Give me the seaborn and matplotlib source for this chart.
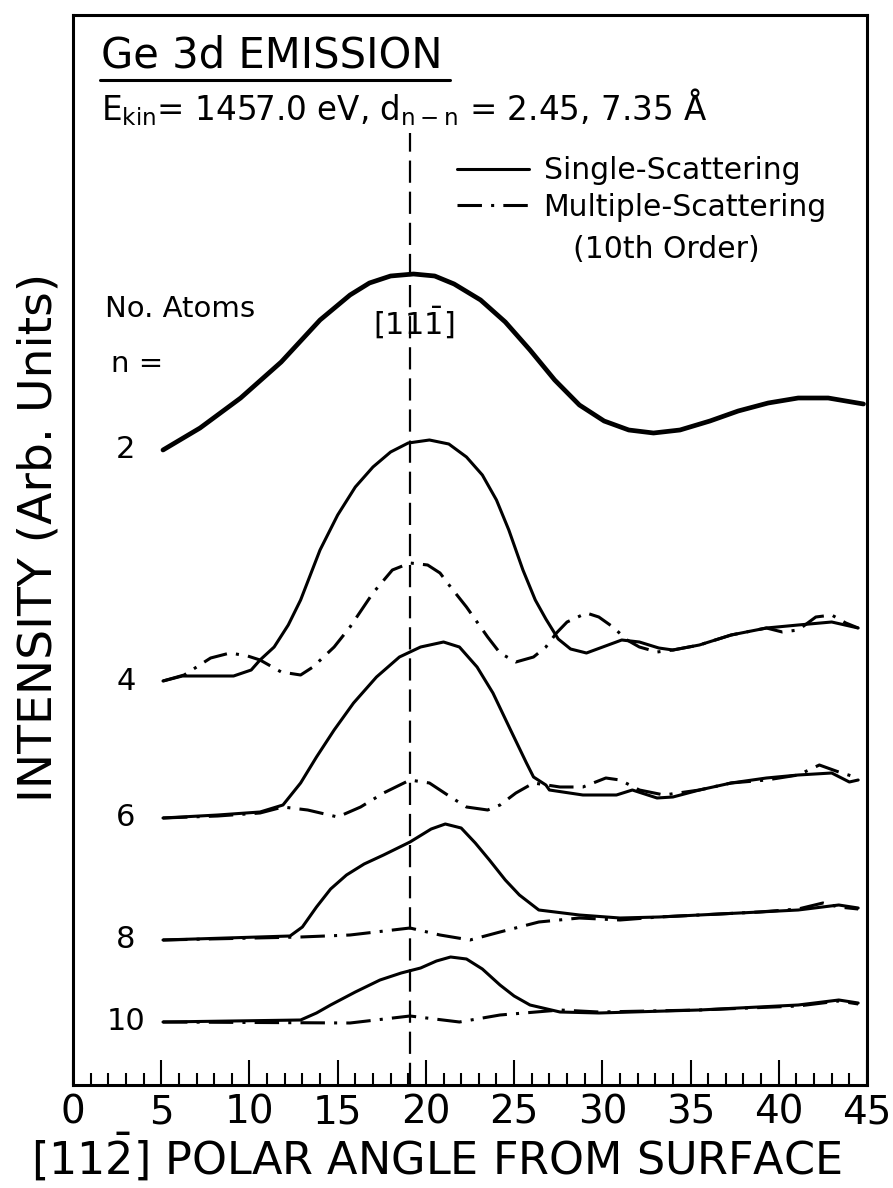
import matplotlib
matplotlib.use('Agg')
import matplotlib.pyplot as plt
import seaborn as sns
from matplotlib.lines import Line2D

# polar angle (deg) and offset intensity (arb. units)
n2_ang = [5.1, 7.2, 9.5, 11.8, 14.0, 15.7, 16.8, 18.0, 19.3, 20.5, 21.6, 23.1, 24.5, 25.9,
          27.3, 28.7, 30.1, 31.5, 32.9, 34.4, 36.1, 37.7, 39.4, 41.1, 42.8, 44.8]
n2_int = [63.5, 65.7, 68.7, 72.3, 76.5, 79.0, 80.2, 80.9, 81.1, 80.9, 80.1, 78.5, 76.3, 73.5,
          70.5, 68.0, 66.4, 65.5, 65.2, 65.5, 66.4, 67.4, 68.2, 68.7, 68.7, 68.1]

n4_ss_ang = [5.1, 6.2, 9.1, 10.1, 10.6, 11.4, 12.2, 12.9, 14.0, 15.0, 16.0, 17.0, 18.0, 19.0,
             20.2, 21.3, 22.3, 23.2, 24.0, 24.7, 25.5, 26.2, 26.8, 27.5, 28.2, 29.1, 31.1,
             32.1, 33.2, 34.0, 35.5, 37.3, 39.3, 41.1, 43.0, 44.5]
n4_ss_int = [40.4, 40.9, 40.9, 41.5, 42.5, 43.8, 46.0, 48.5, 53.5, 57.0, 59.8, 61.8, 63.3, 64.2,
             64.5, 64.1, 62.8, 61.0, 58.5, 55.5, 51.5, 48.5, 46.6, 44.6, 43.6, 43.2, 44.5,
             44.3, 43.7, 43.5, 44.0, 45.0, 45.7, 46.0, 46.3, 45.7]
n4_ms_ang = [5.1, 6.3, 7.8, 8.9, 9.9, 10.6, 11.8, 12.9, 13.6, 14.8, 15.7, 17.0, 18.1, 19.1,
             20.1, 20.8, 21.4, 22.3, 23.5, 24.2, 25.1, 26.1, 26.8, 27.4, 28.0, 29.1, 29.8,
             30.6, 31.4, 32.1, 33.1, 34.0, 35.5, 37.3, 39.3, 40.2, 41.1, 42.1, 43.0, 43.8, 44.5]
n4_ms_int = [40.4, 41.0, 42.7, 43.2, 42.9, 42.5, 41.3, 41.0, 41.8, 43.8, 45.8, 49.2, 51.5, 52.2,
             52.0, 51.2, 49.8, 47.8, 44.8, 43.2, 42.3, 42.8, 43.8, 45.2, 46.3, 47.2, 46.8,
             45.8, 44.5, 43.8, 43.3, 43.5, 44.0, 45.0, 45.7, 45.3, 45.5, 46.8, 47.0, 46.2, 45.7]

n6_ss_ang = [5.1, 8.2, 10.6, 11.9, 12.9, 13.8, 14.8, 15.9, 17.2, 18.5, 19.7, 21.0, 21.9,
             22.9, 23.8, 24.8, 25.7, 26.1, 26.8, 27.0, 28.9, 30.8, 31.7, 33.1, 34.0, 35.5,
             37.3, 39.3, 41.1, 43.0, 44.0, 44.5]
n6_ss_int = [26.7, 27.0, 27.3, 28.0, 30.2, 32.8, 35.5, 38.2, 40.8, 42.8, 43.8, 44.3, 43.8,
             41.8, 39.2, 35.5, 32.2, 30.8, 30.0, 29.5, 29.0, 29.0, 29.5, 28.7, 28.8, 29.5,
             30.2, 30.7, 31.0, 31.2, 30.3, 30.5]
n6_ms_ang = [5.1, 8.2, 10.6, 11.9, 13.3, 15.0, 16.3, 17.6, 19.1, 20.2, 21.4, 22.3, 23.5,
             24.2, 25.1, 26.1, 27.6, 28.9, 30.2, 31.0, 32.1, 33.5, 35.5, 37.3, 39.3, 41.1,
             42.3, 43.4, 44.5]
n6_ms_int = [26.7, 26.9, 27.2, 27.8, 27.5, 26.8, 27.8, 29.2, 30.5, 30.2, 28.8, 27.8, 27.5,
             28.0, 29.2, 30.2, 29.8, 29.8, 30.7, 30.5, 29.5, 29.0, 29.5, 30.2, 30.5, 31.0,
             32.0, 31.3, 30.7]

n8_ss_ang = [5.1, 12.3, 13.0, 13.8, 14.6, 15.5, 16.5, 17.6, 19.1, 20.3, 21.1, 22.0, 22.8,
             23.6, 24.5, 25.3, 26.4, 28.7, 31.0, 33.2, 35.5, 38.9, 41.1, 43.4, 44.5]
n8_ss_int = [14.5, 14.9, 15.8, 17.8, 19.6, 21.0, 22.1, 23.0, 24.3, 25.6, 26.1, 25.7, 24.2,
             22.5, 20.5, 19.0, 17.5, 17.0, 16.7, 16.8, 17.0, 17.3, 17.5, 18.0, 17.7]
n8_ms_ang = [5.1, 12.9, 15.7, 19.1, 20.8, 22.5, 24.2, 26.4, 28.7, 31.0, 33.2, 35.5, 38.9,
             41.1, 42.5, 43.4, 44.5]
n8_ms_int = [14.5, 14.8, 15.0, 15.7, 15.0, 14.5, 15.3, 16.3, 16.7, 16.5, 16.8, 17.0, 17.3,
             17.6, 18.2, 17.8, 17.6]

n10_ss_ang = [5.1, 12.9, 13.8, 14.6, 16.0, 17.4, 18.6, 19.7, 20.6, 21.4, 22.3, 23.2, 24.2,
              25.0, 25.9, 27.6, 29.8, 35.5, 41.1, 43.4, 44.5]
n10_ss_int = [6.3, 6.5, 7.2, 8.0, 9.3, 10.5, 11.2, 11.7, 12.4, 12.8, 12.6, 11.6, 10.0,
              8.9, 8.0, 7.3, 7.2, 7.5, 8.0, 8.5, 8.2]
n10_ms_ang = [5.1, 15.7, 19.1, 21.9, 24.2, 27.6, 29.8, 35.5, 41.1, 43.4, 44.5]
n10_ms_int = [6.3, 6.2, 6.9, 6.3, 7.0, 7.5, 7.3, 7.5, 7.9, 8.4, 8.1]

atom_labels = ['2', '4', '6', '8', '10']
label_ang = 3.0
direction_111 = 19.1

sns.set_style('white')
plt.rcParams['font.family'] = ['DejaVu Sans']
plt.rcParams['mathtext.fontset'] = 'dejavusans'
plt.rcParams['mathtext.default'] = 'regular'
plt.rcParams['text.color'] = 'black'
plt.rcParams['axes.labelcolor'] = 'black'
plt.rcParams['xtick.color'] = 'black'

fig = plt.figure(figsize=(8.93, 11.88), dpi=100)
ax = fig.add_axes([73 / 893, 1 - 1085 / 1188, 794 / 893, 1070 / 1188])

lw = 2.2
dashdot = (0, (8, 3, 1, 3))

sns.lineplot(x=n2_ang, y=n2_int, ax=ax, color='black', lw=3.4, sort=False, estimator=None)
ss_sets = [(n4_ss_ang, n4_ss_int), (n6_ss_ang, n6_ss_int), (n8_ss_ang, n8_ss_int), (n10_ss_ang, n10_ss_int)]
ms_sets = [(n4_ms_ang, n4_ms_int), (n6_ms_ang, n6_ms_int), (n8_ms_ang, n8_ms_int), (n10_ms_ang, n10_ms_int)]
for i, (a, v) in enumerate(ss_sets):
    sns.lineplot(x=a, y=v, ax=ax, color='black', lw=lw, sort=False, estimator=None,
                 label='Single-Scattering' if i == 0 else None)
for i, (a, v) in enumerate(ms_sets):
    sns.lineplot(x=a, y=v, ax=ax, color='black', lw=lw, linestyle=dashdot, sort=False,
                 estimator=None, label='Multiple-Scattering' if i == 0 else None)

# [11-1] direction
ax.vlines(direction_111, 0, 95.2, color='black', lw=1.6, linestyles=(0, (10, 4)))
ax.text(direction_111 + 0.2, 76.3, r'$[11\bar{1}]$', fontsize=22, ha='center', va='center')

# number-of-atoms labels at the start of each curve
starts = [n2_int[0], n4_ss_int[0], n6_ss_int[0], n8_ss_int[0], n10_ss_int[0]]
for lab, y0 in zip(atom_labels, starts):
    ax.text(label_ang, y0, lab, fontsize=22, ha='center', va='center')
ax.text(1.8, 76.8, 'No. Atoms', fontsize=21, ha='left', va='baseline')
ax.text(2.15, 71.3, 'n =', fontsize=21, ha='left', va='baseline')

# header
ax.text(1.6, 101.8, 'Ge 3d EMISSION', fontsize=30, ha='left', va='baseline')
ax.add_line(Line2D([(100 - 73) / 794, (450 - 73) / 794], [(1085 - 80) / 1070] * 2,
                   transform=ax.transAxes, color='black', lw=2.2))
ax.text(1.6, 96.5, r'E$_{kin}$= 1457.0 eV, d$_{n-n}$ = 2.45, 7.35 Å', fontsize=23.5,
        ha='left', va='baseline')

handles, labels = ax.get_legend_handles_labels()
leg = ax.legend(handles, labels, loc='upper left', bbox_to_anchor=(0.4836, 0.868),
                frameon=False, fontsize=21.5, handlelength=2.4, handletextpad=0.5,
                borderpad=0, borderaxespad=0, labelspacing=0.25)
ax.text(33.6, 83.6, '(10th Order)', fontsize=21.5, ha='center', va='center')

ax.set_xlim(0, 45)
ax.set_ylim(0, 107)
ax.set_xticks(range(0, 46, 5))
ax.set_xticks(range(0, 46, 1), minor=True)
ax.set_yticks([])
ax.tick_params(axis='x', which='major', direction='in', length=18, width=1.5,
               labelsize=28, pad=6, bottom=True)
ax.tick_params(axis='x', which='minor', direction='in', length=9, width=1.5, bottom=True)
for s in ax.spines.values():
    s.set_linewidth(2.2)
    s.set_color('black')

ax.set_xlabel(r'[11$\bar{2}$] POLAR ANGLE FROM SURFACE', fontsize=32)
ax.xaxis.set_label_coords(0.458, -0.043)
ax.set_ylabel('INTENSITY (Arb. Units)', fontsize=34)
ax.yaxis.set_label_coords(-0.015, 0.512)

fig.savefig('out.png', dpi=100)
